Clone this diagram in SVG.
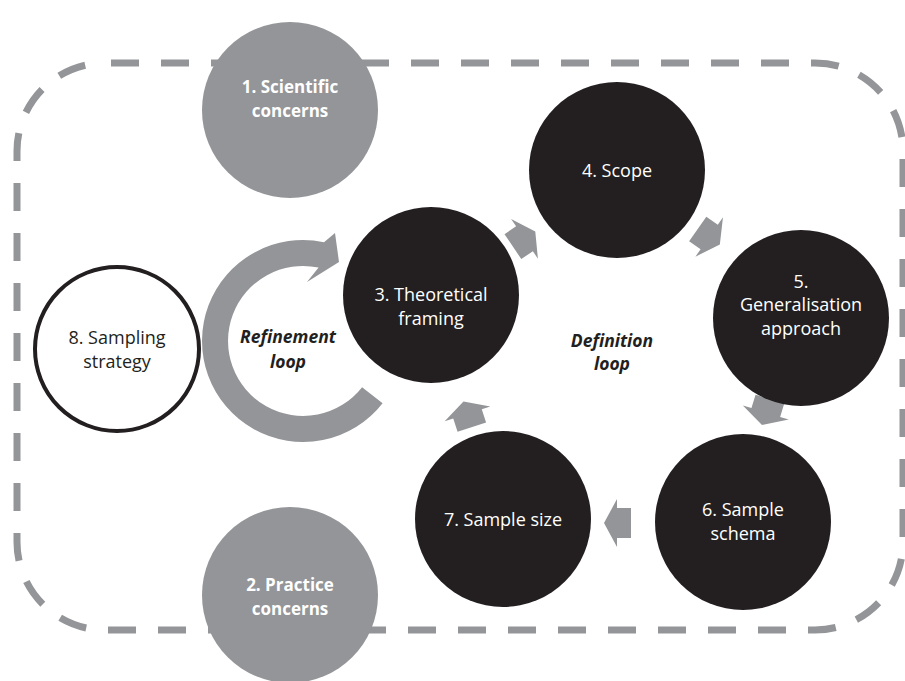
<svg xmlns="http://www.w3.org/2000/svg" width="905" height="681" viewBox="0 0 905 681">
<defs>
<style>
.border{fill:none;stroke:#939598;stroke-width:7;stroke-dasharray:28 22;stroke-dashoffset:44}
.gray{fill:#939598}
.dark{fill:#231f20}
.white{fill:#ffffff;stroke:#231f20;stroke-width:4}
.t{font-family:"Open Sans","Liberation Sans",sans-serif;font-size:18px;text-anchor:middle}
.tw{fill:#ffffff}
.tb{fill:#231f20}
.bold{font-weight:bold;font-size:17px}
.bi{font-weight:bold;font-style:italic;fill:#231f20;font-size:17.5px}
</style>
<path id="blk" d="M-14,-15 L0,-15 L0,-24 L13,0 L0,24 L0,15 L-14,15 Z" fill="#939598"/>
</defs>
<rect class="border" x="17" y="63" width="886" height="567" rx="88" ry="88"/>
<g id="node1"><circle class="gray" cx="290" cy="110" r="88"/><text class="t tw bold" x="290" y="93">1. Scientific</text><text class="t tw bold" x="290" y="117">concerns</text></g>
<g id="node2"><circle class="gray" cx="290" cy="595" r="88"/><text class="t tw bold" x="290" y="591">2. Practice</text><text class="t tw bold" x="290" y="615">concerns</text></g>
<g id="connectors">
<path class="gray" d="M382.6,403.2 A101,101 0 1 1 324,242.2 L335,233 L339,262 L307,282 L318.6,267.6 A75,75 0 1 0 362.1,387.2 Z"/>
<use href="#blk" transform="translate(524.5,238.8) rotate(-34)"/>
<use href="#blk" transform="translate(709.2,237) rotate(35)"/>
<use href="#blk" transform="translate(765.8,412.5) rotate(107)"/>
<use href="#blk" transform="translate(617,523) rotate(180)"/>
<use href="#blk" transform="translate(467.5,413.8) rotate(-108)"/>
</g>
<g id="node8"><circle class="white" cx="117" cy="349" r="82"/><text class="t tb" x="117" y="344">8. Sampling</text><text class="t tb" x="117" y="368">strategy</text></g>
<g id="node3"><circle class="dark" cx="431" cy="295" r="88"/><text class="t tw" x="431" y="301">3. Theoretical</text><text class="t tw" x="431" y="325">framing</text></g>
<g id="node4"><circle class="dark" cx="617" cy="170" r="88"/><text class="t tw" x="617" y="177">4. Scope</text></g>
<g id="node5"><circle class="dark" cx="801" cy="318" r="88"/><text class="t tw" x="801" y="288">5.</text><text class="t tw" x="801" y="311">Generalisation</text><text class="t tw" x="801" y="335">approach</text></g>
<g id="node6"><circle class="dark" cx="743" cy="522" r="88"/><text class="t tw" x="743" y="516">6. Sample</text><text class="t tw" x="743" y="540">schema</text></g>
<g id="node7"><circle class="dark" cx="503" cy="519" r="88"/><text class="t tw" x="503" y="526">7. Sample size</text></g>
<g id="labels"><text class="t bi" x="288" y="343">Refinement</text><text class="t bi" x="288" y="368">loop</text><text class="t bi" x="612" y="347">Definition</text><text class="t bi" x="612" y="370">loop</text></g>
</svg>
